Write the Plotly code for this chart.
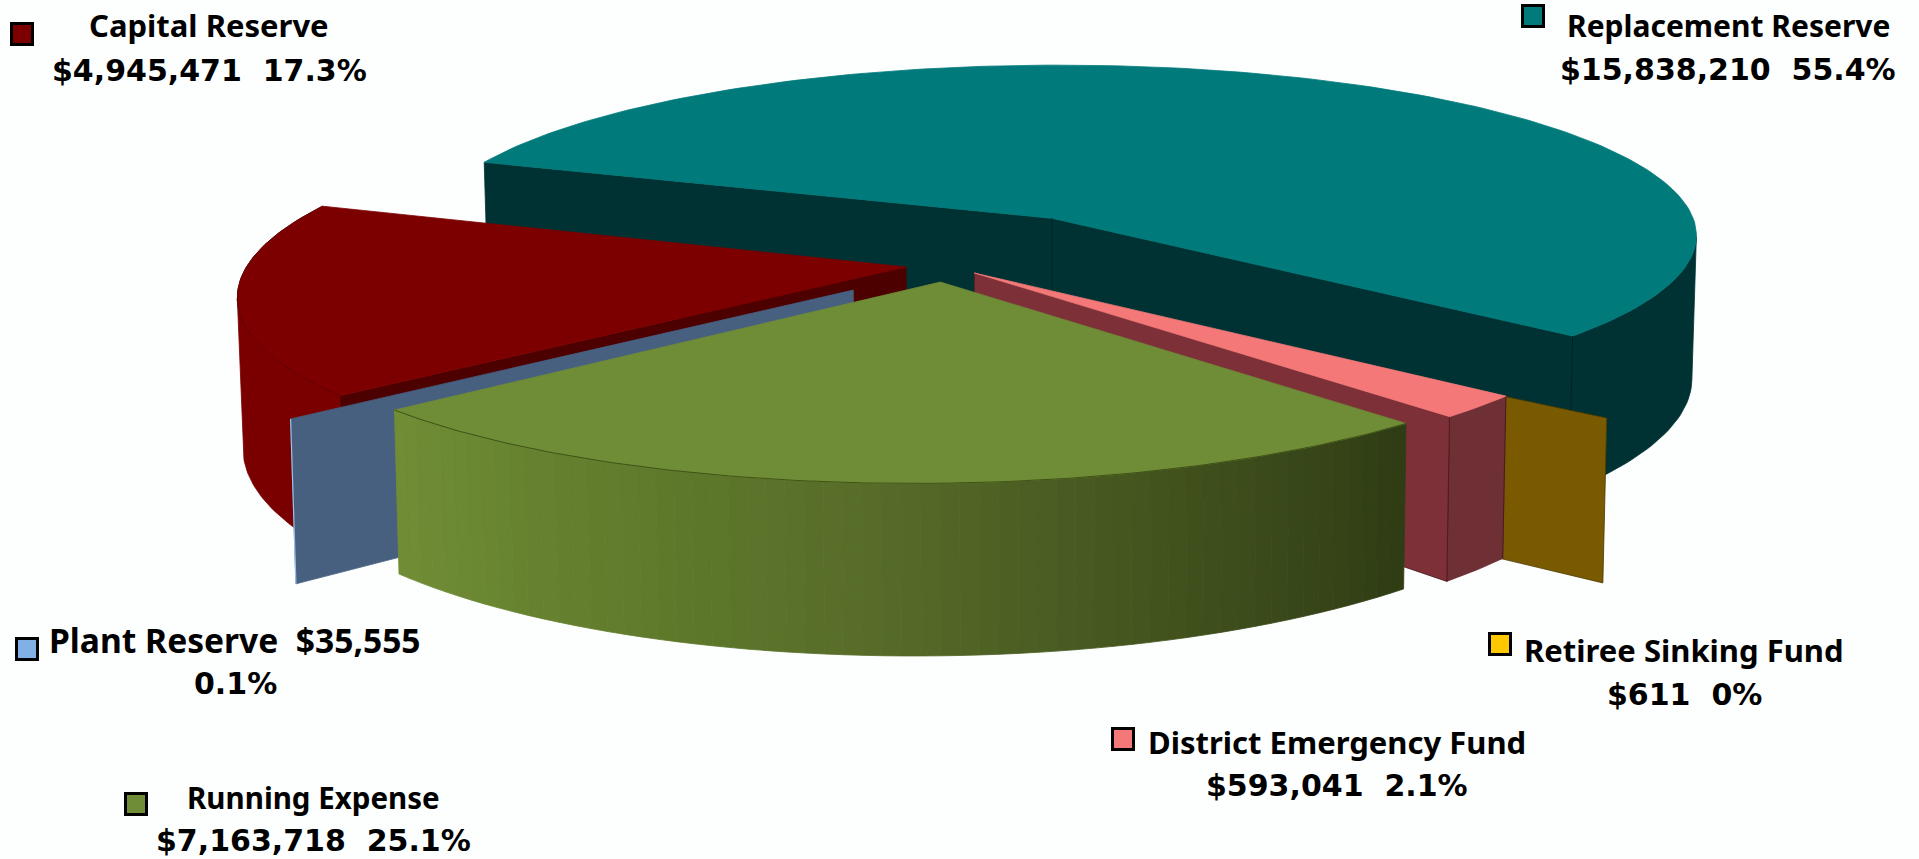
import math
import plotly.graph_objects as go

# ---- data
categories = ["Replacement Reserve", "Retiree Sinking Fund", "District Emergency Fund",
              "Running Expense", "Plant Reserve", "Capital Reserve"]
amounts = [15838210, 611, 593041, 7163718, 35555, 4945471]
percent_labels = ["55.4%", "0%", "2.1%", "25.1%", "0.1%", "17.3%"]

# ---- colours
top_colors = ["#007a7a", "#7a5a00", "#f47878", "#6f8c36", "#486080", "#7d0000"]
arc_colors = ["#003234", "#7a5a00", "#6e3035", "#6f8c36", "#486080", "#7a0000"]
radial_colors = ["#003234", "#7a5a00", "#7d3038", "#6f8c36", "#486080", "#4d0000"]
swatch_colors = ["#007a7a", "#ffc800", "#f47878", "#6f8c36", "#80b0e5", "#7d0000"]
green_ramp = [(0.0, "#718e36"), (0.3, "#5f7a2b"), (0.5, "#566b28"), (0.72, "#44551f"), (1.0, "#2f3c14")]
BG = "#fdfefe"
INK = "#000000"

# ---- camera
CX, HY, F, K, KZ, SHRINK = 1052.0, -986.0, 4528.0, 8430.0, 990.0, 0.993
D = 7.0

# ---- per-slice placement of the exploded slices (ground-plane units)
apex_x = [0.0, 0.01, -0.115, -0.164, -0.29, -0.217]
apex_y = [0.0, -0.455, -0.304, -0.352, -0.394, -0.272]
arc_x = [0.012, 0.01, -0.115, -0.175, -0.29, -0.222]
arc_y = [0.04, -0.455, -0.304, -0.295, -0.394, -0.26]
radius = [0.98, 0.905, 0.94, 0.968, 0.94, 0.975]
start_deg = [162.1, -36.7, -39.4, -48.4, -139.9, -139.1]
stretch = [1.026, 1.0, 1.0, 0.976, 1.0, 0.975]

# ---- label layout
line1 = ["Replacement Reserve", "Retiree Sinking Fund", "District Emergency Fund",
         "Running Expense", "Plant Reserve\u00a0\u00a0$35,555", "Capital Reserve"]
line2 = [f"${amounts[0]:,}\u00a0\u00a0{percent_labels[0]}", f"${amounts[1]:,}\u00a0\u00a0{percent_labels[1]}",
         f"${amounts[2]:,}\u00a0\u00a0{percent_labels[2]}", f"${amounts[3]:,}\u00a0\u00a0{percent_labels[3]}",
         percent_labels[4], f"${amounts[5]:,}\u00a0\u00a0{percent_labels[5]}"]
label_x = [1728, 1684, 1337, 313, 235, 209]
label_y1 = [25, 650, 742, 797, 640, 25]
label_y2 = [69, 694, 785, 840, 683, 70]
label_size1 = [30, 31, 31, 29.5, 33.6, 31]
swatch_x = [1533, 1500, 1123, 136, 27, 22]
swatch_y = [16, 644, 739, 804, 649, 34]

total = sum(amounts)


def top(X, Y):
    d = D + Y
    return CX + F * X / d, HY + K / d


def bottom(X, Y):
    d = D + Y
    return CX + (F * X / d) * SHRINK, HY + (K + KZ) / d


def hex_rgb(c):
    return tuple(int(c[i:i + 2], 16) for i in (1, 3, 5))


def ramp(t):
    for (t0, c0), (t1, c1) in zip(green_ramp, green_ramp[1:]):
        if t <= t1:
            a, b = hex_rgb(c0), hex_rgb(c1)
            f = (t - t0) / (t1 - t0)
            return "rgb(%d,%d,%d)" % tuple(round(a[i] + (b[i] - a[i]) * f) for i in range(3))
    return green_ramp[-1][1]


fig = go.Figure()


def poly(pts, fill, line=None, width=0.8):
    xs = [p[0] for p in pts] + [pts[0][0]]
    ys = [p[1] for p in pts] + [pts[0][1]]
    fig.add_trace(go.Scatter(x=xs, y=ys, mode="lines", fill="toself", fillcolor=fill,
                             line=dict(color=line or fill, width=width), hoverinfo="skip", showlegend=False))


def stroke(pts, color, width=1.0):
    fig.add_trace(go.Scatter(x=[p[0] for p in pts], y=[p[1] for p in pts], mode="lines",
                             line=dict(color=color, width=width), hoverinfo="skip", showlegend=False))


def rim(i, arc, color):
    """Outer wall of slice i: only the part of the arc that faces the camera."""
    seen = [p for p in arc
            if (p[0] - arc_x[i]) * p[0] + (p[1] - arc_y[i]) * (p[1] + D) < 0]
    if len(seen) > 1:
        poly([top(*p) for p in seen] + [bottom(*p) for p in reversed(seen)], color)


def slice_arc(i, n=90):
    span = amounts[i] / total * 360 * stretch[i]
    return [(arc_x[i] + radius[i] * math.cos(math.radians(start_deg[i] - span * k / n)),
             arc_y[i] + radius[i] * math.sin(math.radians(start_deg[i] - span * k / n))) for k in range(n + 1)]


def radial_wall(i, p, color, line=None):
    a = (apex_x[i], apex_y[i])
    poly([top(*a), top(*p), bottom(*p), bottom(*a)], color, line)


# teal (back), walls first
i = 0
arc = slice_arc(i, 180)
rim(i, arc, arc_colors[i])
radial_wall(i, arc[0], radial_colors[i])
radial_wall(i, arc[-1], radial_colors[i])
poly([top(apex_x[i], apex_y[i])] + [top(*p) for p in arc], top_colors[i])
stroke([top(apex_x[i], apex_y[i]), bottom(apex_x[i], apex_y[i])], "#002224")
stroke([top(*arc[-1]), bottom(*arc[-1])], "#002224")

# red
i = 5
arc = slice_arc(i)
rim(i, arc, arc_colors[i])
radial_wall(i, arc[0], radial_colors[i])
poly([top(apex_x[i], apex_y[i])] + [top(*p) for p in arc], top_colors[i])
stroke([top(*p) for p in arc], "#620000")

# yellow
i = 1
arc = slice_arc(i, 2)
radial_wall(i, arc[0], top_colors[i], "#4a3800")

# pink
i = 2
arc = slice_arc(i, 12)
rim(i, arc, arc_colors[i])
stroke([top(*arc[0]), bottom(*arc[0])], "#4a1c20")
stroke([top(*arc[-1]), bottom(*arc[-1])], "#4a1c20")
radial_wall(i, arc[-1], radial_colors[i], "#4a1c20")
poly([top(apex_x[i], apex_y[i])] + [top(*p) for p in arc], top_colors[i])

# blue
i = 4
arc = slice_arc(i, 2)
radial_wall(i, arc[0], top_colors[i])
stroke([top(*arc[0]), bottom(*arc[0])], "#9cc0e8", 1.2)

# green with shaded rim
i = 3
arc = slice_arc(i, 120)
arc_lr = list(reversed(arc))
N = 60
for k in range(N):
    seg = arc_lr[k * 2:(k + 1) * 2 + 1]
    rim(i, seg, ramp((k + 0.5) / N))
poly([top(apex_x[i], apex_y[i])] + [top(*p) for p in arc], top_colors[i])
stroke([top(*p) for p in arc], "#3f5216", 1.0)

# swatches
for c, x, y in zip(swatch_colors, swatch_x, swatch_y):
    fig.add_trace(go.Scatter(x=[x], y=[y], mode="markers", hoverinfo="skip", showlegend=False,
                             marker=dict(symbol="square", size=21, color=c, line=dict(color=INK, width=3))))

# labels
for k in range(len(categories)):
    fig.add_annotation(x=label_x[k], y=label_y1[k], text=f"<b>{line1[k]}</b>", showarrow=False,
                       font=dict(family="Noto Sans", size=label_size1[k], color=INK),
                       xanchor="center", yanchor="middle")
    fig.add_annotation(x=label_x[k], y=label_y2[k], text=f"<b>{line2[k]}</b>", showarrow=False,
                       font=dict(family="DejaVu Sans", size=30, color=INK),
                       xanchor="center", yanchor="middle")

fig.update_layout(width=1919, height=859, margin=dict(l=0, r=0, t=0, b=0), autosize=False,
                  paper_bgcolor=BG, plot_bgcolor=BG, showlegend=False,
                  xaxis=dict(range=[0, 1919], visible=False, fixedrange=True),
                  yaxis=dict(range=[859, 0], visible=False, fixedrange=True))
fig.write_html("out.html", config={"displayModeBar": False},
               post_script="document.body.style.margin='0';document.body.style.overflow='hidden';"
                           "document.body.style.background='%s';" % BG)
